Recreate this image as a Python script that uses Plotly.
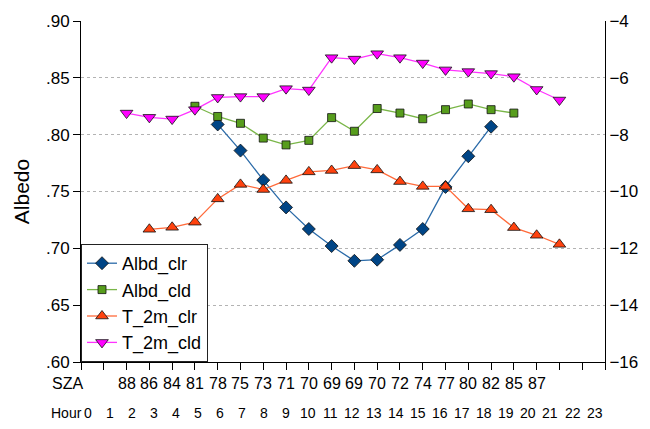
import plotly.graph_objects as go

# ---- data ----
albd_clr_x = list(range(6, 19))
albd_clr = [0.809, 0.786, 0.760, 0.736, 0.717, 0.702, 0.689, 0.690, 0.703, 0.717, 0.754, 0.781, 0.807]

albd_cld_x = list(range(5, 20))
albd_cld = [0.825, 0.816, 0.810, 0.797, 0.791, 0.795, 0.815, 0.803, 0.823, 0.819, 0.814, 0.822, 0.827, 0.822, 0.819]

t2m_clr_x = list(range(3, 22))
t2m_clr = [-11.33, -11.26, -11.08, -10.26, -9.75, -9.93, -9.61, -9.31, -9.26, -9.09,
           -9.24, -9.65, -9.82, -9.82, -10.61, -10.64, -11.27, -11.54, -11.86]

t2m_cld_x = list(range(2, 22))
t2m_cld = [-7.24, -7.39, -7.45, -7.12, -6.69, -6.66, -6.66, -6.38, -6.43, -5.29,
           -5.34, -5.15, -5.29, -5.48, -5.72, -5.78, -5.85, -5.96, -6.41, -6.78]

sza_x = list(range(2, 21))
sza_labels = ["88", "86", "84", "81", "78", "75", "73", "71", "70", "69", "69",
              "70", "72", "74", "77", "80", "82", "85", "87"]

hours = list(range(24))

left_ticks = [0.60, 0.65, 0.70, 0.75, 0.80, 0.85, 0.90]
left_ticktext = [".60", ".65", ".70", ".75", ".80", ".85", ".90"]
right_ticks = [-16, -14, -12, -10, -8, -6, -4]

FONT = "Liberation Sans, Arial, sans-serif"

fig = go.Figure()
fig.add_trace(go.Scatter(x=albd_clr_x, y=albd_clr, name="Albd_clr", mode="lines+markers",
                         line=dict(color="#2a6aa8", width=1.3),
                         marker=dict(symbol="diamond", size=10, color="#004586",
                                     line=dict(color="#111", width=0.8))))
fig.add_trace(go.Scatter(x=albd_cld_x, y=albd_cld, name="Albd_cld", mode="lines+markers",
                         line=dict(color="#7ab648", width=1.3),
                         marker=dict(symbol="square", size=8, color="#579d1c",
                                     line=dict(color="#111", width=0.8))))
fig.add_trace(go.Scatter(x=t2m_clr_x, y=t2m_clr, name="T_2m_clr", mode="lines+markers", yaxis="y2",
                         line=dict(color="#ff6a3a", width=1.3),
                         marker=dict(symbol="triangle-up", size=11, color="#ff420e",
                                     line=dict(color="#111", width=0.8))))
fig.add_trace(go.Scatter(x=t2m_cld_x, y=t2m_cld, name="T_2m_cld", mode="lines+markers", yaxis="y2",
                         line=dict(color="#ff33ff", width=1.3),
                         marker=dict(symbol="triangle-down", size=11, color="#ff00ff",
                                     line=dict(color="#111", width=0.8))))

SZA_Y = -0.064   # paper coordinates below the plot area
HOUR_Y = -0.149

annotations = []
annotations.append(dict(x=-0.026, y=SZA_Y, xref="paper", yref="paper", text="SZA", showarrow=False,
                        xanchor="center", yanchor="middle",
                        font=dict(size=16, color="#000", family=FONT)))
for xv, s in zip(sza_x, sza_labels):
    annotations.append(dict(x=xv, y=SZA_Y, xref="x", yref="paper", text=s, showarrow=False,
                            xanchor="center", yanchor="middle",
                            font=dict(size=16, color="#000", family=FONT)))
annotations.append(dict(x=-0.028, y=HOUR_Y, xref="paper", yref="paper", text="Hour", showarrow=False,
                        xanchor="center", yanchor="middle",
                        font=dict(size=14, color="#000", family=FONT)))
for h in hours:
    annotations.append(dict(x=0.3 + h * 0.967, y=HOUR_Y, xref="x", yref="paper", text=str(h),
                            showarrow=False, xanchor="center", yanchor="middle",
                            font=dict(size=14, color="#000", family=FONT)))

fig.update_layout(
    width=650, height=429,
    margin=dict(l=81, r=32, t=20, b=67),
    paper_bgcolor="white", plot_bgcolor="white",
    font=dict(family=FONT, size=16, color="#000"),
    showlegend=True,
    legend=dict(x=0, y=0, xanchor="left", yanchor="bottom", bgcolor="white",
                bordercolor="#222", borderwidth=1, font=dict(size=18, family=FONT),
                itemwidth=30, tracegroupgap=0),
    xaxis=dict(range=[0, 23], tickvals=hours, ticktext=[""] * len(hours), showgrid=False,
               showline=True, linecolor="#000", linewidth=1, ticks="outside", ticklen=7,
               tickcolor="#000", zeroline=False, fixedrange=True),
    yaxis=dict(range=[0.60, 0.90], tickvals=left_ticks, ticktext=left_ticktext,
               showgrid=True, gridcolor="#b3b3b3", griddash="dot", gridwidth=1,
               showline=True, linecolor="#000", linewidth=1, ticks="outside", ticklen=7,
               tickcolor="#000", zeroline=False,
               title=dict(text="Albedo", font=dict(size=21, family=FONT), standoff=10),
               tickfont=dict(size=17)),
    yaxis2=dict(range=[-16, -4], tickvals=right_ticks, overlaying="y", side="right",
                showgrid=False, showline=True, linecolor="#000", linewidth=1, ticks="",
                zeroline=False, tickfont=dict(size=17)),
    annotations=annotations,
)

fig.write_html("out.html")
